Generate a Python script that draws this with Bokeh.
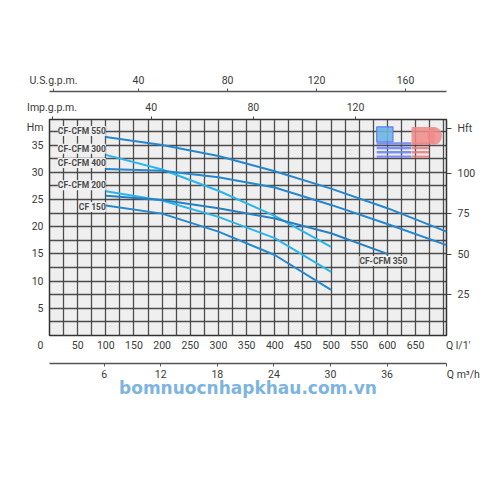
from bokeh.plotting import figure
from bokeh.models import (LinearAxis, Range1d, SingleIntervalTicker, FixedTicker,
                          Label)
from bokeh.embed import file_html
from bokeh.resources import INLINE

NB = "\u00a0"

# ---------------- data ----------------
q_lmin_ticks = [50, 100, 150, 200, 250, 300, 350, 400, 450, 500, 550, 600, 650]
hm_ticks = [5, 10, 15, 20, 25, 30, 35]
hft_ticks = [25, 50, 75, 100]
usgpm_ticks = [40, 80, 120, 160]
impgpm_ticks = [40, 80, 120]
m3h_ticks = [6, 12, 18, 24, 30, 36]

q_550 = [100, 200, 300, 400, 500, 600, 705]
h_550 = [36.5, 35.0, 33.0, 30.2, 27.0, 23.4, 19.1]
q_300 = [100, 200, 300, 400, 500]
h_300 = [33.2, 30.5, 26.6, 22.0, 16.3]
q_400 = [100, 200, 300, 400, 500, 600, 705]
h_400 = [30.6, 30.3, 29.1, 27.2, 24.0, 20.5, 16.6]
q_200 = [100, 200, 300, 400, 500]
h_200 = [26.5, 24.8, 21.8, 17.9, 11.7]
q_350 = [100, 200, 300, 400, 500, 600]
h_350 = [25.7, 24.9, 23.4, 21.5, 18.8, 15.0]
q_150 = [100, 200, 300, 400, 500]
h_150 = [23.9, 22.4, 19.1, 14.8, 8.4]

series = [
    ("CF-CFM 550", q_550, h_550, "#2388cf", 0, 6, "right"),
    ("CF-CFM 300", q_300, h_300, "#29b6ee", 0, 6, "right"),
    ("CF-CFM 400", q_400, h_400, "#2388cf", 0, 6, "right"),
    ("CF-CFM 200", q_200, h_200, "#29b6ee", 0, 6, "right"),
    ("CF-CFM 350", q_350, h_350, "#2680c6", None, None, None),
    ("CF 150", q_150, h_150, "#2388cf", 0, -1.5, "right"),
]

FONT = "Roboto"
TXT = "#3a3a3a"

QMAX, HMAX = 705, 39.7
p = figure(width=496, height=420,
           x_range=Range1d(0, QMAX), y_range=Range1d(0, HMAX),
           output_backend="svg", toolbar_location=None,
           min_border_left=49, min_border_right=50,
           min_border_top=119, min_border_bottom=85,
           background_fill_color="#efefef", border_fill_color="white")
p.outline_line_color = "#333333"
p.outline_line_width = 1.5

p.extra_x_ranges = {"m3h": Range1d(0.2, 42.3), "us": Range1d(0, 178.4),
                    "imp": Range1d(0.2, 155.6)}
p.extra_y_ranges = {"ft": Range1d(0, 133)}

# grid
p.xgrid.ticker = SingleIntervalTicker(interval=25, num_minor_ticks=0)
p.ygrid.ticker = SingleIntervalTicker(interval=2.5, num_minor_ticks=0)
for g in (p.xgrid[0], p.ygrid[0]):
    g.grid_line_color = "#3c3c3c"
    g.grid_line_width = 1.3
    g.grid_line_alpha = 0.9


def style(ax, size="10.5px"):
    ax.major_label_text_font = FONT
    ax.major_label_text_font_size = size
    ax.major_label_text_color = TXT
    ax.minor_tick_line_color = None
    ax.major_tick_in = 0


# default bottom axis (l/min) with origin "0" and unit text
xa = p.xaxis[0]
xa.ticker = FixedTicker(ticks=[0] + q_lmin_ticks + [QMAX - 0.1])
xa.major_label_overrides = {0: "0" + NB * 7,
                            QMAX - 0.1: NB * 9 + "Q l/1'"}
style(xa)
xa.axis_line_color = None
xa.major_tick_line_color = None
xa.major_tick_out = 3
xa.major_label_standoff = 0
xa.axis_label = " "
xa.axis_label_text_font_size = "6px"
xa.axis_label_standoff = 0

# left axis (Hm)
ya = p.yaxis[0]
ya.ticker = FixedTicker(ticks=hm_ticks + [38.3])
ya.major_label_overrides = {38.3: "Hm"}
style(ya)
ya.axis_line_color = None
ya.major_tick_line_color = None
ya.major_tick_out = 0
ya.major_label_standoff = 6

# m3/h axis (watermark as its axis label)
ax_m3h = LinearAxis(x_range_name="m3h",
                    ticker=FixedTicker(ticks=m3h_ticks + [42.29]))
ax_m3h.major_label_overrides = {42.29: NB * 13 + "Q m³/h"}
style(ax_m3h)
ax_m3h.axis_line_color = "#555555"
ax_m3h.axis_line_width = 1.3
ax_m3h.major_tick_line_color = "#555555"
ax_m3h.major_tick_out = 3
ax_m3h.major_label_standoff = 1
ax_m3h.axis_label = "bomnuocnhapkhau.com.vn"
ax_m3h.axis_label_text_font = "DejaVu Sans"
ax_m3h.axis_label_text_font_style = "bold"
ax_m3h.axis_label_text_font_size = "17px"
ax_m3h.axis_label_text_color = "#7db4e0"
ax_m3h.axis_label_standoff = -6
p.add_layout(ax_m3h, "below")

# Imp gpm axis (nearest the frame)
ax_imp = LinearAxis(x_range_name="imp",
                    ticker=FixedTicker(ticks=[1.2] + impgpm_ticks))
ax_imp.major_label_overrides = {1.2: "Imp.g.p.m."}
style(ax_imp)
ax_imp.axis_line_color = None
ax_imp.major_tick_line_color = "#444444"
ax_imp.major_tick_out = 3
ax_imp.major_label_standoff = 3
ax_imp.axis_label = " "
ax_imp.axis_label_text_font_size = "3px"
ax_imp.axis_label_standoff = 0
p.add_layout(ax_imp, "above")

# US gpm axis
ax_us = LinearAxis(x_range_name="us",
                   ticker=FixedTicker(ticks=[1.8] + usgpm_ticks))
ax_us.major_label_overrides = {1.8: "U.S.g.p.m."}
style(ax_us)
ax_us.axis_line_color = "#555555"
ax_us.axis_line_width = 1.3
ax_us.major_tick_line_color = "#555555"
ax_us.major_tick_out = 3
ax_us.major_label_standoff = 2
p.add_layout(ax_us, "above")

# right axis (ft)
ax_ft = LinearAxis(y_range_name="ft",
                   ticker=FixedTicker(ticks=hft_ticks + [127.5]))
style(ax_ft)
ax_ft.axis_line_color = None
ax_ft.major_tick_line_color = "#444444"
ax_ft.major_tick_out = 5
ax_ft.major_label_standoff = 6
ax_ft.major_label_overrides = {127.5: "Hft"}
p.add_layout(ax_ft, "right")

# logo (decoration)
stripe_tops = [35.5, 34.7, 33.9, 33.1]
p.quad(left=[581], right=[610], top=[38.35], bottom=[35.6],
       fill_color="#6cb4e6", line_color="#5a78f0", line_width=1.2, alpha=0.9)
p.quad(left=[581] * 4, right=[642] * 4, top=stripe_tops,
       bottom=[t - 0.45 for t in stripe_tops], fill_color="#6f86f2",
       line_color=None, alpha=0.9)
p.quad(left=[643] * 4, right=[674] * 4, top=stripe_tops,
       bottom=[t - 0.45 for t in stripe_tops], fill_color="#ea7a7a",
       line_color=None, alpha=0.85)
p.quad(left=[643], right=[684], top=[38.3], bottom=[35.1],
       fill_color="#ee8a8a", line_color=None, alpha=0.85)
p.ellipse(x=[684], y=[36.7], width=26, height=3.2, fill_color="#ee8a8a",
          line_color=None, alpha=0.85)

# curves
for name, q, h, col, xo, yo, al in series:
    p.line(q, h, line_color=col, line_width=2)

# curve labels
for name, q, h, col, xo, yo, al in series:
    if al is None:
        lab = Label(x=q[-1], y=h[-1], x_offset=-4, y_offset=-7, text=name,
                    text_align="center", text_baseline="middle")
    else:
        lab = Label(x=q[0], y=h[0], x_offset=xo, y_offset=yo, text=name,
                    text_align=al, text_baseline="middle")
    lab.text_font = FONT
    lab.text_font_size = "8.5px"
    lab.text_font_style = "bold"
    lab.text_color = "#4a4a4a"
    lab.background_fill_color = "#efefef"
    p.add_layout(lab)

open("out.html", "w").write(file_html(p, INLINE))
